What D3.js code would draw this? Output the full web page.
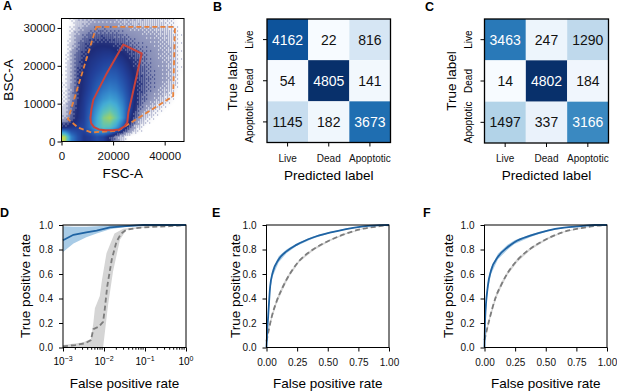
<!DOCTYPE html>
<html>
<head>
<meta charset="utf-8">
<script src="https://cdn.jsdelivr.net/npm/d3@7"></script>
<style>
  body { margin: 0; background: #fff; }
  text { font-family: "Liberation Sans", Arial, Helvetica, sans-serif; }
</style>
</head>
<body>
<div id="wrapper"></div>
<script>
// ---------- data ----------

// A: flow cytometry density (cells of 2500 x 2500),
// rows from top (BSC-A ~31250) to bottom (~1250), columns FSC-A ~1250 ... 46250
const densityCell = 2500
const densityRows = [
  [0,0.3,0.8,1.0,1.2,1.3,1.3,1.3,1.2,1.1,1.0,0.9,0.9,0.8,0.8,0.7,0.6,0.4,0],
  [0,0.6,1.2,1.6,1.9,2.0,2.0,1.9,1.8,1.7,1.5,1.4,1.3,1.2,1.1,1.0,0.9,0.6,0.2],
  [0,0.8,1.6,2.1,2.4,2.6,2.6,2.5,2.3,2.1,1.9,1.7,1.5,1.4,1.3,1.1,1.0,0.7,0.2],
  [0,1.0,1.9,2.4,2.8,3.0,3.1,3.1,2.9,2.7,2.4,2.1,1.8,1.6,1.4,1.2,1.1,0.8,0.2],
  [0.1,1.1,2.1,2.7,3.1,3.3,3.5,3.6,3.5,3.2,2.8,2.4,2.0,1.7,1.5,1.3,1.1,0.8,0.2],
  [0.2,1.2,2.3,2.9,3.3,3.6,3.9,4.1,4.0,3.6,3.1,2.6,2.1,1.8,1.6,1.4,1.2,0.8,0.2],
  [0.3,1.3,2.4,3.0,3.5,4.0,4.4,4.6,4.5,4.0,3.4,2.8,2.2,1.9,1.6,1.4,1.1,0.7,0.1],
  [0.4,1.4,2.5,3.1,3.7,4.4,4.9,5.2,5.0,4.4,3.6,2.8,2.2,1.8,1.5,1.2,0.9,0.5,0],
  [0.5,1.5,2.6,3.3,4.0,4.9,5.6,6.0,5.7,4.9,3.8,2.8,2.0,1.6,1.2,0.9,0.6,0.2,0],
  [0.7,1.7,2.8,3.4,4.4,5.6,6.7,7.2,6.6,5.4,3.8,2.5,1.6,1.1,0.7,0.4,0.1,0,0],
  [1.0,2.1,2.9,3.5,4.7,6.2,7.8,8.3,7.4,5.6,3.4,2.0,1.1,0.5,0.2,0,0,0,0],
  [2.8,3.2,3.4,3.7,4.8,6.3,7.3,7.1,5.9,4.2,2.2,0.9,0.3,0,0,0,0,0,0],
  [8.6,5.2,4.0,3.2,3.4,3.9,3.6,2.6,1.6,0.7,0.1,0,0,0,0,0,0,0,0],
]
const outerGate = [[13500,30300],[44000,30300],[43300,12000],[21900,2830],[11550,2400],[6400,3700],[2520,5900]]
const innerGate = [[23960,25610],[31100,23250],[25900,7520],[25500,5000],[24300,3900],[22500,3200],[20000,2950],[17000,2950],[14500,3200],[12600,3800],[11500,4800],[11200,6200],[11600,8500],[12330,11010],[17530,18000]]
const fscTicks = [0, 20000, 40000]
const bscTicks = [0, 10000, 20000, 30000]

// B, C: confusion matrices
const classNames = ["Live", "Dead", "Apoptotic"]
const matrixB = [[4162, 22, 816], [54, 4805, 141], [1145, 182, 3673]]
const matrixC = [[3463, 247, 1290], [14, 4802, 184], [1497, 337, 3166]]

// D: ROC, log false positive rate
const dBlueFpr = [0.001, 0.0018, 0.0037, 0.0066, 0.014, 0.035, 0.09, 1]
const dBlueTpr = [0.875, 0.92, 0.94, 0.955, 0.98, 0.99, 1.0, 1.0]
const dBlueLo  = [0.78, 0.85, 0.90, 0.93, 0.965, 0.985, 0.995, 1.0]
const dBlueHi  = [0.99, 0.985, 0.985, 0.99, 0.997, 1.0, 1.0, 1.0]
const dGrayFpr = [0.001, 0.002, 0.0035, 0.0048, 0.0055, 0.0075, 0.0095, 0.0105, 0.012, 0.0155, 0.02, 0.026, 0.035, 0.06, 0.15, 0.4, 1]
const dGrayTpr = [0.01, 0.02, 0.035, 0.06, 0.15, 0.17, 0.21, 0.32, 0.5, 0.72, 0.86, 0.93, 0.96, 0.975, 0.985, 0.99, 1.0]
const dGrayHiFpr = [0.001, 0.003, 0.0048, 0.0055, 0.006, 0.0079, 0.0089, 0.0115, 0.018, 0.0295, 0.1, 1]
const dGrayHi    = [0.02, 0.04, 0.07, 0.2, 0.32, 0.42, 0.55, 0.77, 0.93, 0.97, 0.99, 1]
const dGrayLoFpr = [0.001, 0.0095, 0.0126, 0.0166, 0.0245, 0.035, 0.1, 1]
const dGrayLo    = [0, 0, 0.35, 0.62, 0.88, 0.96, 0.98, 1]

// E: ROC, linear
const eBlueFpr = [0, 0.005, 0.014, 0.03, 0.05, 0.1, 0.163, 0.245, 0.38, 0.516, 0.65, 0.79, 0.925, 1]
const eBlueTpr = [0, 0.12, 0.26, 0.5, 0.61, 0.72, 0.785, 0.838, 0.898, 0.937, 0.967, 0.988, 0.999, 1]
const eBlueLo  = [0, 0.10, 0.23, 0.47, 0.58, 0.695, 0.77, 0.828, 0.89, 0.932, 0.963, 0.985, 0.997, 1]
const eBlueHi  = [0, 0.14, 0.29, 0.53, 0.64, 0.745, 0.80, 0.848, 0.906, 0.942, 0.971, 0.991, 1, 1]
const eGrayFpr = [0, 0.02, 0.04, 0.08, 0.136, 0.19, 0.27, 0.38, 0.516, 0.65, 0.79, 0.925, 1]
const eGrayTpr = [0.05, 0.15, 0.24, 0.37, 0.5, 0.6, 0.71, 0.8, 0.875, 0.93, 0.97, 0.99, 1]
const eGrayLo  = [0.03, 0.13, 0.22, 0.35, 0.48, 0.585, 0.70, 0.79, 0.868, 0.925, 0.967, 0.988, 1]
const eGrayHi  = [0.07, 0.17, 0.26, 0.39, 0.52, 0.615, 0.72, 0.81, 0.882, 0.935, 0.973, 0.992, 1]

// F: ROC, linear
const fBlueFpr = [0, 0.005, 0.027, 0.054, 0.11, 0.19, 0.245, 0.38, 0.516, 0.65, 0.79, 0.9, 1]
const fBlueTpr = [0, 0.23, 0.5, 0.63, 0.74, 0.82, 0.86, 0.915, 0.955, 0.978, 0.99, 1, 1]
const fBlueLo  = [0, 0.21, 0.47, 0.60, 0.72, 0.80, 0.845, 0.905, 0.95, 0.975, 0.988, 0.998, 1]
const fBlueHi  = [0, 0.25, 0.53, 0.66, 0.765, 0.84, 0.875, 0.925, 0.962, 0.982, 0.993, 1, 1]
const fGrayFpr = [0, 0.04, 0.095, 0.136, 0.19, 0.27, 0.38, 0.516, 0.65, 0.79, 0.925, 1]
const fGrayTpr = [0.06, 0.23, 0.42, 0.51, 0.61, 0.715, 0.81, 0.89, 0.945, 0.975, 0.995, 1]
const fGrayLo  = [0.04, 0.21, 0.40, 0.49, 0.595, 0.70, 0.80, 0.882, 0.94, 0.972, 0.993, 1]
const fGrayHi  = [0.08, 0.25, 0.44, 0.53, 0.625, 0.73, 0.82, 0.898, 0.95, 0.978, 0.997, 1]

const rocTicks = [0, 0.25, 0.5, 0.75, 1]
const tprTicks = [0, 0.2, 0.4, 0.6, 0.8, 1]

// ---------- drawing ----------

const blue = "#1f63a3"
const blueBand = "#a8cbe6"
const gray = "#7d7d7d"
const grayBand = "#d5d5d5"

const svg = d3.select("#wrapper")
  .append("svg")
    .attr("width", 617)
    .attr("height", 391)

const zip = (xs, ys) => xs.map((x, i) => [x, ys[i]])

function panelLetter(t, x, y) {
  svg.append("text")
    .attr("x", x).attr("y", y)
    .attr("font-size", 12.5)
    .attr("font-weight", "bold")
    .text(t)
}

function frame(x, y) {
  svg.append("rect")
    .attr("x", x.range()[0])
    .attr("y", y.range()[1])
    .attr("width", x.range()[1] - x.range()[0])
    .attr("height", y.range()[0] - y.range()[1])
    .attr("fill", "none")
    .attr("stroke", "#000")
    .attr("stroke-width", 1)
}

function styleAxis(g, size) {
  g.select(".domain").remove()
  g.selectAll("text").attr("font-size", size).attr("fill", "#111")
  g.selectAll("line").attr("stroke", "#000")
}

function title(t, x, y, rotate) {
  svg.append("text")
    .attr("transform", `translate(${x},${y})` + (rotate ? " rotate(-90)" : ""))
    .attr("text-anchor", "middle")
    .attr("dy", "0.35em")
    .attr("font-size", 13.5)
    .text(t)
}

// ----- A -----
{
  const x = d3.scaleLinear().domain([0, 47500]).range([61.5, 184])
  const y = d3.scaleLinear().domain([0, 32500]).range([141.5, 18.5])

  const nR = densityRows.length, nC = densityRows[0].length
  const densityAt = (dx, dy) => {
    let fx = dx / densityCell - 0.5
    let fy = (nR - 1) - (dy / densityCell - 0.5)
    fx = Math.max(0, Math.min(nC - 1, fx))
    fy = Math.max(0, Math.min(nR - 1, fy))
    const c0 = Math.floor(fx), r0 = Math.floor(fy)
    const c1 = Math.min(c0 + 1, nC - 1), r1 = Math.min(r0 + 1, nR - 1)
    const tx = fx - c0, ty = fy - r0
    return densityRows[r0][c0] * (1 - tx) * (1 - ty) + densityRows[r0][c1] * tx * (1 - ty)
         + densityRows[r1][c0] * (1 - tx) * ty + densityRows[r1][c1] * tx * ty
  }
  const solidFrom = 2.8
  const densityColor = d3.scaleLinear()
    .domain([solidFrom, 3.5, 4.4, 5.3, 6.3, 7.3, 8.2, 9])
    .range(["#1e2b78", "#22409a", "#2860b6", "#3486cb", "#44add6", "#5fc3b6", "#9dd168", "#e4df3e"])
    .clamp(true)
  // ordered dither (8x8 Bayer) so the sparse outskirts read as dots
  const bayer = [
    [0,32,8,40,2,34,10,42],[48,16,56,24,50,18,58,26],[12,44,4,36,14,46,6,38],[60,28,52,20,62,30,54,22],
    [3,35,11,43,1,33,9,41],[51,19,59,27,49,17,57,25],[15,47,7,39,13,45,5,37],[63,31,55,23,61,29,53,21],
  ]
  const navy = "#1e2b78"
  const fade = d3.interpolateRgb("#ffffff", navy)

  const w = x.range()[1] - x.range()[0], h = y.range()[0] - y.range()[1]
  const cw = Math.round(w), ch = Math.round(h)
  const canvas = document.createElement("canvas")
  canvas.width = cw
  canvas.height = ch
  const ctx = canvas.getContext("2d")
  const img = ctx.createImageData(cw, ch)
  for (let j = 0; j < ch; j++) {
    for (let i = 0; i < cw; i++) {
      const v = densityAt(x.invert(x.range()[0] + (i + 0.5) * w / cw), y.invert(y.range()[1] + (j + 0.5) * h / ch))
      let c
      if (v >= solidFrom) c = d3.rgb(densityColor(v))
      else {
        const p = Math.max(0, (v - 0.15) / (solidFrom - 0.15))
        const dot = (bayer[j % 8][i % 8] + 0.5) / 64 < p ? 1 : 0
        c = p <= 0 ? d3.rgb("#fff") : d3.rgb(fade(0.45 * p + 0.55 * dot))
      }
      const k = (j * cw + i) * 4
      img.data[k] = c.r; img.data[k + 1] = c.g; img.data[k + 2] = c.b; img.data[k + 3] = 255
    }
  }
  ctx.putImageData(img, 0, 0)
  svg.append("image")
    .attr("x", x.range()[0]).attr("y", y.range()[1])
    .attr("width", w).attr("height", h)
    .attr("preserveAspectRatio", "none")
    .attr("href", canvas.toDataURL())

  const gate = d3.line().x(d => x(d[0])).y(d => y(d[1])).curve(d3.curveLinearClosed)
  svg.append("path")
    .attr("d", gate(outerGate))
    .attr("fill", "none")
    .attr("stroke", "#e9813a")
    .attr("stroke-width", 1.8)
    .attr("stroke-dasharray", "5,3")
  svg.append("path")
    .attr("d", gate(innerGate))
    .attr("fill", "none")
    .attr("stroke", "#c9433c")
    .attr("stroke-width", 2)
    .attr("stroke-linejoin", "round")

  frame(x, y)
  svg.append("g")
    .attr("transform", `translate(0,${y.range()[0]})`)
    .call(d3.axisBottom(x).tickValues(fscTicks).tickFormat(d3.format("d")).tickSize(4).tickPadding(6))
    .call(g => styleAxis(g, 11.5))
  svg.append("g")
    .attr("transform", `translate(${x.range()[0]},0)`)
    .call(d3.axisLeft(y).tickValues(bscTicks).tickFormat(d3.format("d")).tickSize(4).tickPadding(2))
    .call(g => styleAxis(g, 11.5))

  title("FSC-A", 122.7, 173.5)
  title("BSC-A", 8.5, 80, true)
  panelLetter("A", 3, 9.5)
}

// ----- B, C -----
function drawMatrix(values, left, top, size, labelX, titleX) {
  const x = d3.scaleBand().domain(classNames).range([left, left + size])
  const y = d3.scaleBand().domain(classNames).range([top, top + size])
  const flat = values.flat()
  const color = d3.scaleSequential(d3.interpolateBlues).domain([d3.min(flat), d3.max(flat)])
  const threshold = (d3.min(flat) + d3.max(flat)) / 2

  classNames.forEach((row, i) => classNames.forEach((col, j) => {
    const v = values[i][j]
    svg.append("rect")
      .attr("x", x(col)).attr("y", y(row))
      .attr("width", x.bandwidth()).attr("height", y.bandwidth())
      .attr("fill", color(v))
    svg.append("text")
      .attr("x", x(col) + x.bandwidth() / 2)
      .attr("y", y(row) + y.bandwidth() / 2)
      .attr("dy", "0.36em")
      .attr("text-anchor", "middle")
      .attr("font-size", 14)
      .attr("fill", v > threshold ? "#fff" : "#111")
      .text(v)
  }))

  svg.append("rect")
    .attr("x", left).attr("y", top)
    .attr("width", size).attr("height", size)
    .attr("fill", "none").attr("stroke", "#000").attr("stroke-width", 1.3)

  svg.append("g")
    .attr("transform", `translate(0,${top + size})`)
    .call(d3.axisBottom(x).tickSize(4).tickSizeOuter(0).tickPadding(8))
    .call(g => styleAxis(g, 10))
  svg.append("g")
    .attr("transform", `translate(${left},0)`)
    .call(d3.axisLeft(y).tickSize(4).tickSizeOuter(0).tickFormat(""))
    .call(g => styleAxis(g, 10))

  classNames.forEach(c => {
    svg.append("text")
      .attr("transform", `translate(${labelX},${y(c) + y.bandwidth() / 2}) rotate(-90)`)
      .attr("text-anchor", "middle")
      .attr("dy", "0.35em")
      .attr("font-size", 10)
      .text(c)
  })

  title("Predicted label", left + size / 2, 175)
  title("True label", titleX, top + size / 2, true)
}
drawMatrix(matrixB, 267, 19, 123.5, 249.5, 232.5)
panelLetter("B", 213, 10.5)
drawMatrix(matrixC, 484.5, 19, 124, 468, 451)
panelLetter("C", 425, 10.5)

// ----- D, E, F -----
function band(x, y, upper, lower) {
  const pts = upper.concat(lower.slice().reverse())
  return d3.line().x(d => x(d[0])).y(d => y(d[1])).curve(d3.curveLinearClosed)(pts)
}

function rocPanel(x, y, series, smooth) {
  const curve = smooth ? d3.curveMonotoneX : d3.curveLinear
  series.bands.forEach(b => {
    svg.append("path")
      .attr("d", band(x, y, b.upper, b.lower))
      .attr("fill", b.color)
      .attr("stroke", "none")
  })
  const line = d3.line().x(d => x(d[0])).y(d => y(d[1])).curve(curve)
  svg.append("path")
    .attr("d", line(series.gray))
    .attr("fill", "none")
    .attr("stroke", gray)
    .attr("stroke-width", 1.8)
    .attr("stroke-dasharray", "5,3")
  svg.append("path")
    .attr("d", line(series.blue))
    .attr("fill", "none")
    .attr("stroke", blue)
    .attr("stroke-width", 1.8)
  frame(x, y)
  svg.append("g")
    .attr("transform", `translate(${x.range()[0]},0)`)
    .call(d3.axisLeft(y).tickValues(tprTicks).tickFormat(d3.format(".1f")).tickSize(4).tickPadding(6))
    .call(g => styleAxis(g, 10))
}

// D
{
  const x = d3.scaleLog().domain([1e-3, 1]).range([63, 186])
  const y = d3.scaleLinear().domain([0, 1]).range([347.5, 225])
  rocPanel(x, y, {
    bands: [
      { upper: zip(dGrayHiFpr, dGrayHi), lower: zip(dGrayLoFpr, dGrayLo), color: grayBand },
      { upper: zip(dBlueFpr, dBlueHi), lower: zip(dBlueFpr, dBlueLo), color: blueBand },
    ],
    gray: zip(dGrayFpr, dGrayTpr),
    blue: zip(dBlueFpr, dBlueTpr),
  }, false)

  const majors = [1e-3, 1e-2, 1e-1, 1]
  const minors = []
  majors.slice(0, 3).forEach(m => d3.range(2, 10).forEach(k => minors.push(m * k)))
  const axisG = svg.append("g").attr("transform", `translate(0,${y.range()[0]})`)
  axisG.call(d3.axisBottom(x).tickValues(majors).tickFormat("").tickSize(4))
    .call(g => styleAxis(g, 10))
  axisG.selectAll(null).data(minors).join("line")
    .attr("x1", d => x(d)).attr("x2", d => x(d))
    .attr("y1", 0).attr("y2", 2.2)
    .attr("stroke", "#000")
  const exps = ["\u22123", "\u22122", "\u22121", "0"]
  majors.forEach((m, i) => {
    const t = svg.append("text")
      .attr("x", x(m))
      .attr("y", 365)
      .attr("text-anchor", "middle")
      .attr("font-size", 10)
    t.append("tspan").text("10")
    t.append("tspan").attr("dy", -4.5).attr("font-size", 7).text(exps[i])
  })
  title("True positive rate", 25, 286, true)
  title("False positive rate", 124.5, 383)
  panelLetter("D", 0, 217)
}

function linearRoc(left, right, s, titleX) {
  const x = d3.scaleLinear().domain([0, 1]).range([left, right])
  const y = d3.scaleLinear().domain([0, 1]).range([347.5, 225])
  rocPanel(x, y, s, true)
  svg.append("g")
    .attr("transform", `translate(0,${y.range()[0]})`)
    .call(d3.axisBottom(x).tickValues(rocTicks).tickFormat(d3.format(".2f")).tickSize(4).tickPadding(7))
    .call(g => styleAxis(g, 10))
  title("True positive rate", titleX, 286, true)
  title("False positive rate", (left + right) / 2, 383)
}

linearRoc(266.5, 389, {
  bands: [
    { upper: zip(eGrayFpr, eGrayHi), lower: zip(eGrayFpr, eGrayLo), color: grayBand },
    { upper: zip(eBlueFpr, eBlueHi), lower: zip(eBlueFpr, eBlueLo), color: blueBand },
  ],
  gray: zip(eGrayFpr, eGrayTpr),
  blue: zip(eBlueFpr, eBlueTpr),
}, 235)
panelLetter("E", 212, 217)

linearRoc(484.5, 607, {
  bands: [
    { upper: zip(fGrayFpr, fGrayHi), lower: zip(fGrayFpr, fGrayLo), color: grayBand },
    { upper: zip(fBlueFpr, fBlueHi), lower: zip(fBlueFpr, fBlueLo), color: blueBand },
  ],
  gray: zip(fGrayFpr, fGrayTpr),
  blue: zip(fBlueFpr, fBlueTpr),
}, 448.5)
panelLetter("F", 423, 217)
</script>
</body>
</html>
